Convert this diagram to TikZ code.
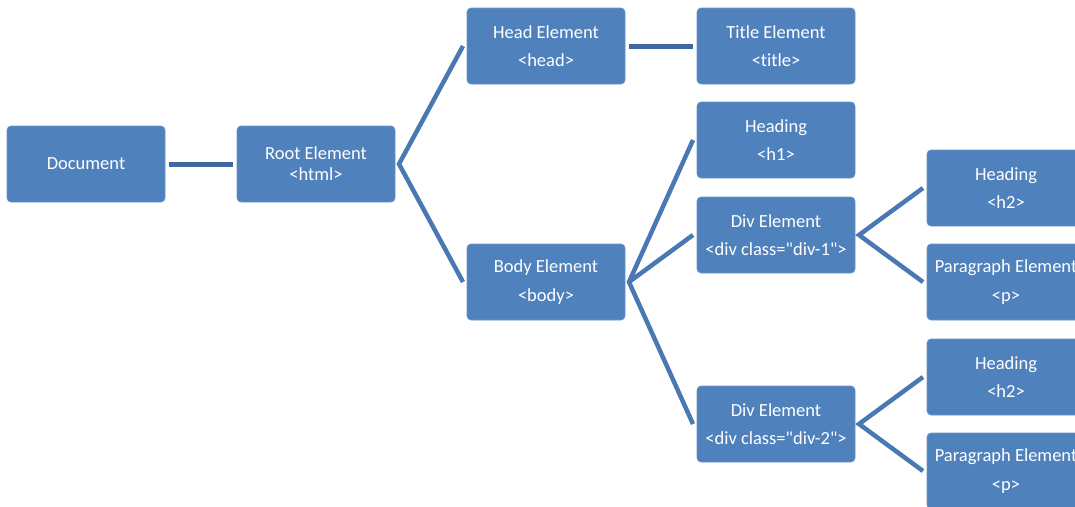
\documentclass[tikz,border=0pt]{standalone}
\usepackage{fontspec}
\setmainfont{Carlito}[Ligatures={TeXOff,CommonOff}]
\definecolor{boxblue}{HTML}{4F81BD}
\definecolor{lineblue}{HTML}{4A78B2}
\definecolor{linedark}{HTML}{3F699E}
\begin{document}
\begin{tikzpicture}[x=1pt,y=-1pt,
  box/.style={fill=boxblue, draw=boxblue!85!white, line width=0.6pt, rounded corners=4pt,
    minimum width=158pt, minimum height=76pt, inner sep=0pt, outer xsep=4pt, outer ysep=0pt,
    text=white, align=center, font=\fontsize{18.5}{28.5}\selectfont},
  tight/.style={font=\fontsize{18.5}{21}\selectfont},
  conn/.style={draw=lineblue, line width=4.5pt, line join=miter, line cap=butt},
  straight/.style={draw=linedark, line width=5pt, line cap=butt}]
\useasboundingbox (0,0) rectangle (1075,506);
\clip (0,0) rectangle (1075,506);
\node[box] (doc) at (86,164) {Document};
\node[box,tight] (root) at (316,164) {Root Element\\<html>};
\node[box] (head) at (546,46) {Head Element\\<head>};
\node[box] (body) at (546,282) {Body Element\\<body>};
\node[box] (title) at (776,46) {Title Element\\<title>};
\node[box] (h1) at (776,140) {Heading\\<h1>};
\node[box] (div1) at (776,235) {Div Element\\<div class="div-1">};
\node[box] (div2) at (776,424) {Div Element\\<div class="div-2">};
\node[box] (h2a) at (1006,188) {Heading\\<h2>};
\node[box] (p1) at (1006,282) {Paragraph Element\\<p>};
\node[box] (h2b) at (1006,377) {Heading\\<h2>};
\node[box] (p2) at (1006,471) {Paragraph Element\\<p>};
\draw[straight] (doc.east) -- (root.west);
\draw[straight] (head.east) -- (title.west);
\draw[conn] (head.west) -- (root.east) -- (body.west);
\draw[conn] (h1.west) -- (body.east) -- (div2.west);
\draw[conn] (div1.west) -- (body.east);
\draw[conn] (h2a.west) -- (div1.east) -- (p1.west);
\draw[conn] (h2b.west) -- (div2.east) -- (p2.west);
\end{tikzpicture}
\end{document}
